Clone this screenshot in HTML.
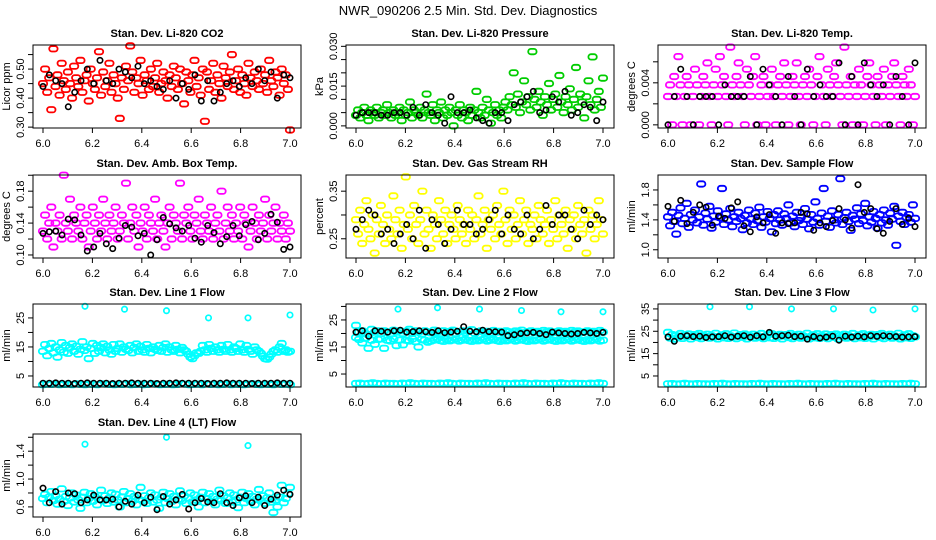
<!DOCTYPE html>
<html><head><meta charset="utf-8">
<style>
html,body{margin:0;padding:0;background:#fff;}
svg{display:block;font-family:"Liberation Sans",Arial,sans-serif;}
</style></head>
<body>
<svg id="chart" width="936" height="540" viewBox="0 0 936 540" xmlns="http://www.w3.org/2000/svg">
<text x="468" y="15" text-anchor="middle" font-size="13">NWR_090206  2.5 Min. Std. Dev. Diagnostics</text>
</svg>
<script>
const xTicks=[6.0,6.2,6.4,6.6,6.8,7.0];
const xTickLabels=["6.0","6.2","6.4","6.6","6.8","7.0"];
const outTimes=[6.17,6.33,6.5,6.67,6.83,7.0];
const out4Times=[6.17,6.5,6.83];

const co2Red=[0.45,0.50,0.42,0.47,0.36,0.57,0.44,0.48,0.41,0.52,0.46,0.43,0.49,0.45,0.40,0.51,0.47,0.44,0.53,0.42,0.46,0.48,0.39,0.50,0.45,0.43,0.47,0.56,0.41,0.49,0.44,0.46,0.52,0.42,0.48,0.45,0.40,0.33,0.47,0.43,0.51,0.46,0.58,0.49,0.42,0.47,0.45,0.53,0.41,0.48,0.46,0.43,0.50,0.44,0.47,0.52,0.42,0.45,0.49,0.46,0.40,0.48,0.44,0.51,0.47,0.43,0.50,0.45,0.38,0.49,0.46,0.42,0.48,0.53,0.44,0.47,0.41,0.50,0.32,0.49,0.43,0.46,0.52,0.42,0.48,0.45,0.40,0.51,0.47,0.44,0.49,0.55,0.43,0.46,0.50,0.42,0.48,0.45,0.41,0.52,0.47,0.44,0.49,0.46,0.43,0.50,0.45,0.48,0.42,0.53,0.46,0.44,0.49,0.47,0.41,0.50,0.45,0.48,0.43,0.29];
const co2Black=[0.44,0.48,0.46,0.45,0.37,0.42,0.46,0.50,0.45,0.53,0.46,0.45,0.50,0.49,0.47,0.51,0.45,0.46,0.44,0.43,0.46,0.40,0.45,0.43,0.48,0.39,0.46,0.39,0.42,0.45,0.46,0.44,0.47,0.45,0.50,0.46,0.49,0.40,0.48,0.47];

const pressGreen=[0.004,0.006,0.003,0.005,0.007,0.004,0.002,0.006,0.005,0.004,0.007,0.003,0.005,0.006,0.004,0.008,0.005,0.003,0.006,0.004,0.005,0.007,0.002,0.006,0.004,0.005,0.009,0.003,0.006,0.005,0.004,0.007,0.003,0.006,0.012,0.005,0.004,0.008,0.002,0.006,0.005,0.009,0.003,0.006,0.004,0.007,0.005,0.000,0.006,0.004,0.008,0.003,0.006,0.005,0.002,0.007,0.004,0.006,0.013,0.005,0.003,0.007,0.004,0.010,0.006,0.001,0.005,0.008,0.004,0.006,0.003,0.007,0.009,0.006,0.011,0.008,0.020,0.007,0.012,0.005,0.009,0.017,0.008,0.011,0.006,0.028,0.010,0.007,0.013,0.009,0.004,0.011,0.008,0.016,0.006,0.010,0.012,0.007,0.019,0.009,0.005,0.011,0.008,0.014,0.006,0.010,0.022,0.007,0.012,0.009,0.003,0.011,0.017,0.008,0.026,0.006,0.010,0.013,0.007,0.018];
const pressBlack=[0.004,0.005,0.005,0.005,0.004,0.004,0.005,0.005,0.004,0.007,0.004,0.008,0.005,0.004,0.001,0.011,0.005,0.005,0.006,0.003,0.002,0.001,0.005,0.005,0.002,0.008,0.009,0.011,0.013,0.005,0.006,0.011,0.009,0.013,0.004,0.005,0.008,0.007,0.002,0.009];

const tempMag=[0.0027,0.0038,0,0.0046,0.0027,0.0065,0.0038,0,0.0027,0.0046,0.0038,0,0.0027,0.0053,0.0038,0,0.0027,0.0046,0.0038,0.0059,0.0027,0,0.0038,0.0053,0.0027,0.0065,0.0038,0.0046,0.0027,0,0.0074,0.0038,0.0027,0.0046,0.0059,0.0038,0.0027,0,0.0053,0.0038,0.0027,0.0046,0.0065,0,0.0027,0.0038,0.0046,0,0.0027,0.0038,0.0053,0.0027,0,0.0038,0.0046,0.0027,0.0059,0.0038,0,0.0027,0.0046,0.0038,0.0059,0.0027,0,0.0038,0.0046,0.0027,0.0053,0.0038,0,0.0027,0.0046,0.0065,0.0038,0.0027,0,0.0053,0.0038,0.0027,0.0046,0.0059,0.0038,0.0027,0,0.0074,0.0038,0.0027,0.0046,0,0.0038,0.0027,0.0053,0.0038,0,0.0027,0.0046,0.0059,0.0038,0.0027,0,0.0046,0.0038,0.0027,0.0053,0,0.0038,0.0027,0.0046,0.0059,0.0038,0.0027,0,0.0046,0.0038,0.0027,0.0053,0.0038,0,0.0027];
const tempBlack=[0,0.0027,0.0053,0.0027,0,0.0027,0.0027,0.0027,0,0.0038,0.0027,0.0027,0.0027,0.0046,0,0.0053,0.0038,0.0027,0,0.0046,0.0027,0,0.0053,0.0027,0.0038,0.0027,0.0027,0.0059,0,0.0046,0,0.0059,0.0038,0.0027,0.0038,0,0.0046,0.0027,0,0.0059];

const ambMag=[0.13,0.15,0.12,0.14,0.16,0.11,0.14,0.13,0.15,0.12,0.20,0.14,0.13,0.17,0.12,0.15,0.14,0.13,0.16,0.12,0.14,0.15,0.11,0.13,0.16,0.14,0.12,0.15,0.13,0.17,0.14,0.12,0.15,0.13,0.14,0.16,0.12,0.13,0.15,0.14,0.19,0.12,0.14,0.16,0.13,0.15,0.11,0.14,0.13,0.16,0.12,0.15,0.14,0.13,0.17,0.12,0.14,0.15,0.13,0.11,0.14,0.16,0.12,0.15,0.14,0.13,0.19,0.12,0.15,0.14,0.16,0.13,0.12,0.15,0.14,0.17,0.13,0.12,0.15,0.14,0.13,0.16,0.12,0.14,0.15,0.13,0.18,0.12,0.14,0.16,0.13,0.15,0.12,0.14,0.13,0.16,0.12,0.15,0.14,0.11,0.13,0.16,0.14,0.12,0.15,0.13,0.14,0.17,0.12,0.15,0.13,0.14,0.16,0.12,0.14,0.13,0.15,0.12,0.14,0.13];
const ambBlack=[0.127,0.129,0.130,0.125,0.145,0.144,0.125,0.105,0.110,0.127,0.114,0.108,0.121,0.137,0.135,0.124,0.127,0.100,0.119,0.147,0.139,0.134,0.130,0.137,0.121,0.116,0.137,0.128,0.114,0.123,0.137,0.124,0.138,0.142,0.119,0.127,0.151,0.141,0.107,0.110];

const rhYel=[0.29,0.26,0.31,0.24,0.28,0.33,0.27,0.25,0.30,0.22,0.29,0.26,0.32,0.28,0.24,0.30,0.27,0.25,0.34,0.29,0.26,0.31,0.23,0.28,0.38,0.27,0.30,0.25,0.32,0.28,0.24,0.29,0.35,0.26,0.31,0.27,0.23,0.30,0.28,0.25,0.33,0.29,0.26,0.31,0.24,0.28,0.30,0.27,0.25,0.32,0.29,0.26,0.28,0.24,0.31,0.27,0.30,0.25,0.29,0.34,0.26,0.28,0.31,0.23,0.29,0.27,0.30,0.25,0.32,0.28,0.26,0.35,0.29,0.24,0.31,0.27,0.30,0.25,0.28,0.33,0.26,0.29,0.31,0.24,0.28,0.27,0.30,0.25,0.32,0.29,0.26,0.28,0.31,0.24,0.29,0.27,0.33,0.25,0.30,0.28,0.26,0.31,0.23,0.29,0.27,0.30,0.25,0.32,0.28,0.26,0.29,0.22,0.31,0.27,0.30,0.25,0.28,0.33,0.29,0.26];
const rhBlack=[0.27,0.29,0.31,0.30,0.26,0.27,0.24,0.26,0.28,0.25,0.31,0.23,0.29,0.28,0.24,0.27,0.31,0.28,0.28,0.26,0.27,0.29,0.31,0.26,0.30,0.27,0.26,0.30,0.25,0.27,0.32,0.28,0.30,0.30,0.27,0.25,0.31,0.28,0.30,0.29];

const flowBlue=[1.44,1.32,1.50,1.38,1.21,1.46,1.56,1.35,1.42,1.62,1.30,1.47,1.40,1.53,1.36,1.44,1.88,1.33,1.49,1.41,1.58,1.29,1.45,1.37,1.52,1.43,1.82,1.34,1.48,1.40,1.55,1.31,1.44,1.38,1.50,1.42,1.27,1.46,1.36,1.53,1.41,1.34,1.49,1.39,1.57,1.30,1.44,1.37,1.51,1.42,1.24,1.47,1.35,1.52,1.40,1.33,1.48,1.42,1.60,1.36,1.45,1.31,1.50,1.39,1.43,1.34,1.55,1.41,1.28,1.47,1.37,1.64,1.42,1.33,1.49,1.82,1.38,1.45,1.30,1.52,1.40,1.36,1.47,1.95,1.34,1.43,1.50,1.38,1.26,1.46,1.41,1.56,1.35,1.48,1.39,1.62,1.32,1.44,1.37,1.51,1.42,1.29,1.47,1.36,1.53,1.40,1.33,1.49,1.41,1.58,1.06,1.45,1.38,1.50,1.34,1.43,1.47,1.37,1.60,1.42];
const flowBlack=[1.58,1.38,1.66,1.35,1.50,1.60,1.57,1.33,1.45,1.42,1.56,1.64,1.32,1.24,1.44,1.36,1.47,1.22,1.36,1.35,1.36,1.50,1.48,1.26,1.36,1.31,1.39,1.55,1.40,1.29,1.87,1.50,1.55,1.28,1.22,1.38,1.55,1.34,1.42,1.31];

const line1Cyan=[13.5,15.8,12.0,14.5,16.2,13.0,15.0,11.5,14.0,16.5,13.2,15.5,12.8,14.8,16.0,13.5,15.2,12.5,14.2,16.8,13.8,15.0,11.0,14.5,16.2,12.8,15.5,13.5,14.8,16.0,13.0,15.2,14.0,12.5,15.8,13.5,14.5,16.0,13.2,15.0,14.2,13.8,15.5,13.0,14.8,16.0,13.5,15.2,14.0,13.2,15.8,14.5,13.0,15.0,14.2,13.8,15.5,13.5,14.8,16.0,13.2,15.0,14.0,13.5,15.5,14.2,13.0,14.8,14.0,13.5,12.5,11.5,11.0,12.0,13.0,12.8,13.5,15.5,14.0,13.2,15.8,14.5,13.5,15.0,14.0,13.2,15.5,14.2,13.5,15.8,14.0,13.2,15.0,14.5,13.5,16.0,14.0,13.2,15.5,14.2,13.5,12.5,15.0,14.0,13.5,12.8,11.8,11.0,10.8,11.5,12.5,13.5,14.0,13.2,15.0,16.2,13.5,14.0,13.2,13.5];
const line1Low=[2.0,2.2,2.1,2.3,2.0,2.1,2.2,2.0,2.3,2.1,2.0,2.2,2.1,2.0,2.3,2.2,2.1,2.0,2.2,2.1,2.3,2.0,2.1,2.2,2.0,2.1,2.3,2.2,2.0,2.1,2.2,2.0,2.1,2.3,2.2,2.0,2.1,2.2,2.0,2.3,2.1,2.2,2.0,2.1,2.3,2.0,2.2,2.1,2.0,2.2,2.3,2.1,2.0,2.2,2.1,2.0,2.3,2.1,2.2,2.0];
const line1Black=[2.5,2.5,2.6,2.5,2.5,2.4,2.5,2.6,2.5,2.5,2.5,2.4,2.5,2.5,2.6,2.5,2.5,2.5,2.4,2.5,2.5,2.6,2.5,2.5,2.5,2.5,2.4,2.5,2.5,2.6,2.5,2.5,2.5,2.4,2.5,2.5,2.5,2.6,2.5,2.5];
const line1Out=[29,28,27.5,25,25,26];

const line2Upper=[23,20.5,21,20,19.5,21.5,20.5,21,20,21,20.5,19.8,21.2,20.5,21,20,20.8,21.5,20.2,21,20.5,19.8,21,20.5,20.2,21.2,20.6,20,21,20.4,20.8,21.2,20,20.6,21,20.3,20.9,21.4,20.1,20.7,21,20.4,20.8,20.2,21.1,20.5,20.8,20.3,21,20.6,20.2,20.9,20.5,21.2,20.3,20.7,21,20.4,20.8,20.2,21.1,20.5,20.9,20.3,20.6,21,20.4,20.8,20.2,21.1,20.5,20.9,20.3,20.6,21,20.4,20.8,20.2,21.1,20.5];
const line2Mid=[18.5,17.8,16.5,18.2,14.5,17.5,16,17.8,18,14.5,17.5,17.2,18,15.5,17.6,15.8,17.5,17.2,18,17,15,17.8,17.5,16.8,17.2,17.6,18,17.4,17.1,17.8,17.3,17.6,17.9,17.2,17.5,17.8,17.4,17.1,17.7,17.3,17.6,17.9,17.2,17.5,17.8,17.4,17.1,17.7,17.3,17.6,17.9,17.2,17.5,17.8,17.4,17.1,17.7,17.3,17.6,17.9,17.2,17.5,17.8,17.4,17.1,17.7,17.3,17.6,17.9,17.2,17.5,17.8,17.4,17.1,17.7,17.3,17.6,17.9,17.2,17.5];
const line2Low=[1.5,1.6,1.4,1.5,1.7,1.5,1.4,1.6,1.5,1.5,1.4,1.6,1.5,1.7,1.5,1.4,1.6,1.5,1.5,1.4,1.6,1.5,1.7,1.5,1.4,1.6,1.5,1.5,1.4,1.6,1.5,1.7,1.5,1.4,1.6,1.5,1.5,1.4,1.6,1.5,1.7,1.5,1.4,1.6,1.5,1.5,1.4,1.6,1.5,1.7,1.5,1.4,1.6,1.5,1.5,1.4,1.6,1.5,1.7,1.5];
const line2Black=[20.5,21,19,21,20.8,20.5,21,21.2,20.5,20.7,21,20.6,20.4,21,20.3,20.5,20.8,22.5,20.8,20.6,21.2,20.7,20.6,20.5,19.2,19.5,20,20.2,20.4,20,19.6,20.5,20.2,20,19.8,20,20.4,20.2,20,20.4];
const line2Out=[29,29.5,29,28.5,28,28];

const line3Cyan=[24.5,22,23.5,21.5,23,22.5,24,21.8,23.2,22.6,23.8,21.6,22.9,23.5,22.2,24,21.7,23.1,22.6,23.7,21.9,23,22.4,24.1,21.6,22.8,23.4,22.1,23.9,21.8,23,22.5,24.2,21.7,22.9,23.5,22.3,23.8,21.6,23.1,22.6,23.7,21.9,23,22.4,24,21.7,22.8,23.4,22.1,23.9,21.8,23.2,22.5,23.6,21.6,22.9,23.5,22.2,24,21.7,23.1,22.6,23.7,21.9,23,22.4,24.1,21.6,22.8,23.4,22.1,23.9,21.8,23,22.5,23.8,21.7,22.9,23.5,22.3,23.8,21.6,23.1,22.6,23.7,21.9,23,22.4,24,21.7,22.8,23.4,22.1,23.9,21.8,23.2,22.5,23.6,21.6,22.9,23.5,22.2,24,21.7,23.1,22.6,23.7,21.9,23,22.4,24.1,21.6,22.8,23.4,22.1,23.9,21.8,23,22.5];
const line3Low=[1.5,1.6,1.4,1.5,1.7,1.5,1.4,1.6,1.5,1.5,1.4,1.6,1.5,1.7,1.5,1.4,1.6,1.5,1.5,1.4,1.6,1.5,1.7,1.5,1.4,1.6,1.5,1.5,1.4,1.6,1.5,1.7,1.5,1.4,1.6,1.5,1.5,1.4,1.6,1.5,1.7,1.5,1.4,1.6,1.5,1.5,1.4,1.6,1.5,1.7,1.5,1.4,1.6,1.5,1.5,1.4,1.6,1.5,1.7,1.5];
const line3Black=[22.5,20.5,22.8,23,22.6,22.8,22.2,22.5,22.6,23,22.4,22.8,23,22.3,23,22.5,24.5,22.8,23,23.2,22.6,22.8,21.5,22.6,22,22.4,22.8,21,22.8,22.4,22.8,22.5,23,22.7,23,22.8,22.6,22.4,22.5,22.6];
const line3Out=[36,36,35,35,34.5,35];

const line4Cyan=[0.72,0.78,0.66,0.74,0.82,0.69,0.76,0.64,0.71,0.86,0.68,0.75,0.62,0.73,0.80,0.67,0.77,0.70,0.58,0.74,0.81,0.66,0.72,0.79,0.68,0.75,0.63,0.71,0.84,0.69,0.76,0.65,0.73,0.80,0.67,0.78,0.70,0.60,0.74,0.82,0.66,0.72,0.79,0.68,0.75,0.63,0.71,0.88,0.69,0.76,0.65,0.73,0.80,0.67,0.77,0.70,0.58,0.74,0.81,0.66,0.72,0.79,0.68,0.75,0.63,0.71,0.83,0.69,0.76,0.65,0.73,0.80,0.67,0.77,0.70,0.60,0.74,0.81,0.66,0.72,0.79,0.68,0.75,0.63,0.71,0.84,0.69,0.76,0.65,0.73,0.80,0.67,0.77,0.70,0.59,0.74,0.81,0.66,0.72,0.79,0.68,0.75,0.63,0.71,0.85,0.69,0.76,0.65,0.73,0.80,0.67,0.52,0.70,0.60,0.74,0.91,0.66,0.72,0.79,0.88];
const line4Black=[0.87,0.66,0.82,0.64,0.80,0.79,0.66,0.70,0.77,0.70,0.70,0.71,0.60,0.68,0.64,0.77,0.66,0.74,0.56,0.75,0.64,0.70,0.78,0.57,0.66,0.72,0.67,0.66,0.79,0.66,0.62,0.73,0.76,0.66,0.74,0.62,0.71,0.77,0.84,0.78];
const line4Out=[1.5,1.6,1.48];

const CYAN="#00ffff",MAG="#ff00ff",BLK="#000000";
const panels=[
 {name:"co2",title:"Stan. Dev. Li-820 CO2",ylab:"Licor ppm",L:33,T:45,ymin:0.297,ymax:0.583,ticks:[0.30,0.35,0.40,0.45,0.50,0.55],labels:[[0.30,"0.30"],[0.40,"0.40"],[0.50,"0.50"]],
  series:[{v:co2Red,c:"#ff0000"},{v:co2Black,c:BLK}]},
 {name:"pressure",title:"Stan. Dev. Li-820 Pressure",ylab:"kPa",L:346,T:45,ymin:-0.0008,ymax:0.0305,ticks:[0,0.005,0.010,0.015,0.020,0.025,0.030],labels:[[0,"0.000"],[0.015,"0.015"],[0.030,"0.030"]],
  series:[{v:pressGreen,c:"#00cd00"},{v:pressBlack,c:BLK}]},
 {name:"temp",title:"Stan. Dev. Li-820 Temp.",ylab:"degrees C",L:658,T:45,ymin:-0.0003,ymax:0.0076,ticks:[0,0.002,0.004,0.006],labels:[[0,"0.000"],[0.004,"0.004"]],
  series:[{v:tempMag,c:MAG},{v:tempBlack,c:BLK}]},
 {name:"ambbox",title:"Stan. Dev. Amb. Box Temp.",ylab:"degrees C",L:33,T:175,ymin:0.0962,ymax:0.2003,ticks:[0.10,0.12,0.14,0.16,0.18,0.20],labels:[[0.10,"0.10"],[0.14,"0.14"],[0.18,"0.18"]],
  series:[{v:ambMag,c:MAG},{v:ambBlack,c:BLK}]},
 {name:"rh",title:"Stan. Dev. Gas Stream RH",ylab:"percent",L:346,T:175,ymin:0.2096,ymax:0.384,ticks:[0.25,0.30,0.35],labels:[[0.25,"0.25"],[0.35,"0.35"]],
  series:[{v:rhYel,c:"#ffff00"},{v:rhBlack,c:BLK}]},
 {name:"sampleflow",title:"Stan. Dev. Sample Flow",ylab:"ml/min",L:658,T:175,ymin:0.89,ymax:2.0,ticks:[1.0,1.2,1.4,1.6,1.8],labels:[[1.0,"1.0"],[1.4,"1.4"],[1.8,"1.8"]],
  series:[{v:flowBlue,c:"#0000ff"},{v:flowBlack,c:BLK}]},
 {name:"line1",title:"Stan. Dev. Line 1 Flow",ylab:"ml/min",L:33,T:304,ymin:1.2,ymax:29.8,ticks:[5,10,15,20,25],labels:[[5,"5"],[15,"15"],[25,"25"]],
  series:[{v:line1Cyan,c:CYAN},{v:line1Low,c:CYAN},{v:line1Black,c:BLK}],out:{t:outTimes,v:line1Out}},
 {name:"line2",title:"Stan. Dev. Line 2 Flow",ylab:"ml/min",L:346,T:304,ymin:0.2,ymax:30.9,ticks:[5,10,15,20,25,30],labels:[[5,"5"],[15,"15"],[25,"25"]],
  series:[{v:line2Upper,c:CYAN},{v:line2Mid,c:CYAN},{v:line2Low,c:CYAN},{v:line2Black,c:BLK}],out:{t:outTimes,v:line2Out}},
 {name:"line3",title:"Stan. Dev. Line 3 Flow",ylab:"ml/min",L:658,T:304,ymin:0.07,ymax:37.2,ticks:[5,10,15,20,25,30,35],labels:[[5,"5"],[15,"15"],[25,"25"],[35,"35"]],
  series:[{v:line3Cyan,c:CYAN},{v:line3Low,c:CYAN},{v:line3Black,c:BLK}],out:{t:outTimes,v:line3Out}},
 {name:"line4",title:"Stan. Dev. Line 4 (LT) Flow",ylab:"ml/min",L:33,T:434,ymin:0.455,ymax:1.647,ticks:[0.6,0.8,1.0,1.2,1.4,1.6],labels:[[0.6,"0.6"],[1.0,"1.0"],[1.4,"1.4"]],
  series:[{v:line4Cyan,c:CYAN},{v:line4Black,c:BLK}],out:{t:out4Times,v:line4Out}}
];
const W=268,H=83;
const svg=document.getElementById('chart');
const NS="http://www.w3.org/2000/svg";
function mk(tag,attrs,parent){const e=document.createElementNS(NS,tag);for(const k in attrs)e.setAttribute(k,attrs[k]);(parent||svg).appendChild(e);return e;}
panels.forEach(p=>{
  const g=mk('g',{});
  
  
  const xs=t=>p.L+10+(t-6)*(W-21);
  const ys=v=>p.T+H-(v-p.ymin)/(p.ymax-p.ymin)*H;
  const cg=mk('g',{},g);
  
  
  const circ=(x,y,c)=>{const k=mk('circle',{cx:x.toFixed(1),cy:y.toFixed(1),r:2.7,fill:'none',stroke:c,'stroke-width':c===BLK?1.6:1.7},cg);
    
    };
  const smear=(x,y,c)=>{
    const k=mk('path',{d:`M${(x-1.5).toFixed(1)},${(y-2.7).toFixed(1)} h3 a2.7,2.7 0 0 1 0,5.4 h-3 a2.7,2.7 0 0 1 0,-5.4 z`,fill:'none',stroke:c,'stroke-width':1.8},cg);
    
    };
  p.series.forEach(s=>{
    const n=s.v.length;
    s.v.forEach((v,i)=>{const t=6+i/(n-1);
      if(s.c===BLK) circ(xs(t),ys(v),s.c); else smear(xs(t),ys(v),s.c);});
  });
  if(p.out){p.out.t.forEach((t,i)=>circ(xs(t),ys(p.out.v[i]),CYAN));}
  // redraw black on top
  const box=mk('rect',{x:p.L,y:p.T,width:W,height:H,fill:'none',stroke:'#000','stroke-width':1},g);
  
  
  const ttl=mk('text',{x:p.L+W/2,y:p.T-8,'text-anchor':'middle','font-size':11,'font-weight':'bold'},g);
  ttl.textContent=p.title;
  
  
  const yl=mk('text',{x:0,y:0,'text-anchor':'middle','font-size':11,transform:`translate(${p.L-23},${p.T+H/2}) rotate(-90)`},g);
  yl.textContent=p.ylab;
  
  
  xTicks.forEach((t,i)=>{
    mk('line',{x1:xs(t),x2:xs(t),y1:p.T+H,y2:p.T+H+5,stroke:'#000'},g);
    const lb=mk('text',{x:xs(t),y:p.T+H+19,'text-anchor':'middle','font-size':11},g);
    lb.textContent=xTickLabels[i];
    
    
  });
  p.ticks.forEach(v=>{mk('line',{x1:p.L-5,x2:p.L,y1:ys(v),y2:ys(v),stroke:'#000'},g);});
  p.labels.forEach(([v,s])=>{
    const lb=mk('text',{x:0,y:0,'text-anchor':'middle','font-size':11,transform:`translate(${p.L-9},${ys(v)}) rotate(-90)`},g);
    lb.textContent=s;
    
    
  });
});
</script>
</body></html>
